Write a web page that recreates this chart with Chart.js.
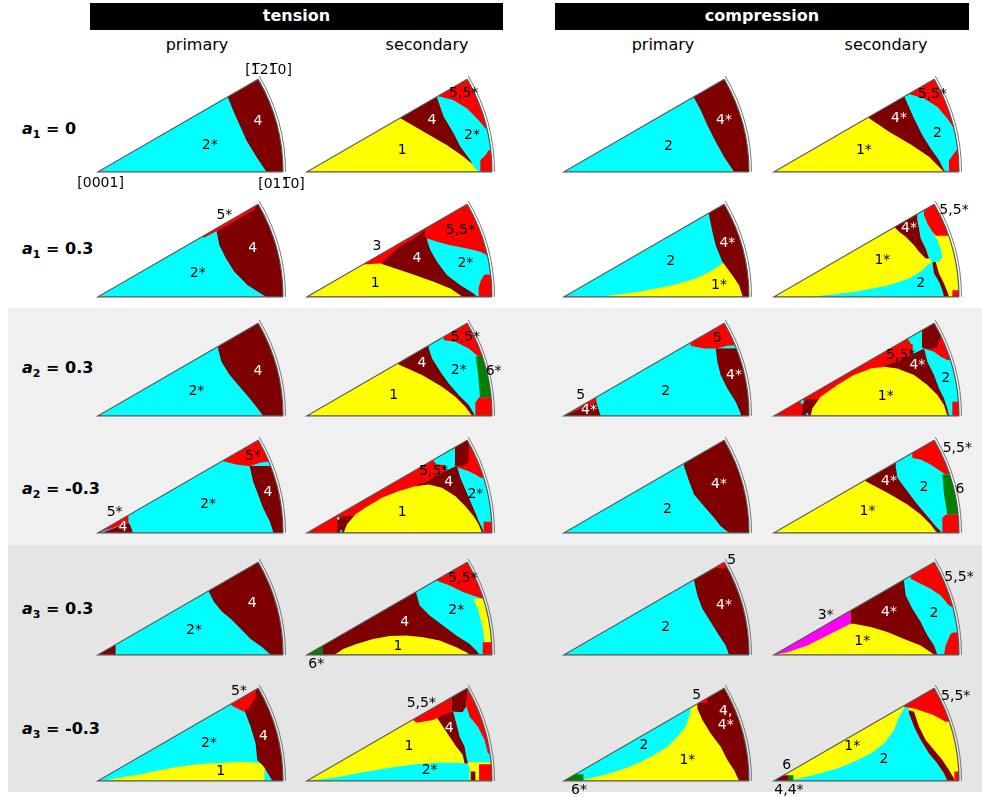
<!DOCTYPE html>
<html><head><meta charset="utf-8">
<script src="https://cdn.jsdelivr.net/npm/chart.js@4/dist/chart.umd.min.js"></script>
<style>
body{margin:0;width:982px;height:797px;position:relative;background:#fff;font-family:"DejaVu Sans",sans-serif;overflow:hidden}
.band{position:absolute;left:8px;width:974px}
.hdr{position:absolute;top:3px;height:27px;background:#000;color:#fff;font-weight:bold;font-size:16px;text-align:center;line-height:26px}
.sub{position:absolute;top:35px;font-size:16px;transform:translateX(-50%);white-space:nowrap}
.row{position:absolute;left:22px;font-weight:bold;font-size:16px;transform:translateY(-50%);white-space:nowrap}
.row sub{font-size:11px}
canvas{position:absolute}
</style></head><body>
<script>
// ---------------- data ----------------
const loadings = ['tension', 'compression'];
const systems = ['primary', 'secondary'];
const rowParams = [['1', '0'], ['1', '0.3'], ['2', '0.3'], ['2', '-0.3'], ['3', '0.3'], ['3', '-0.3']];
const modeIds = [1, 2, 3, 4, 5, 6];
const cornerLabels = [['[1\u030521\u03050]', 0.922, 0.55], ['[0001]', 0.014, -0.062], ['[011\u03050]', 0.992, -0.066]];

// each panel: base mode, overlay regions [mode, polygon (x,y in sector units)], labels [text, x, y]
const a1_0_tenPri = {base: 2, regions: [
  [4, [[0.703,0.40],[0.73,0.333],[0.766,0.252],[0.802,0.171],[0.856,0.081],[0.91,0],[0.91,-0.1],[1.2,-0.1],[1.2,0.7],[0.703,0.7]]]],
  labels: [['2*',0.604,0.144],['4',0.865,0.27]]};
const a1_0_tenSec = {base: 1, regions: [
  [4, [[0.505,0.29],[0.631,0.216],[0.757,0.144],[0.847,0.081],[0.901,0.036],[0.928,0],[1.2,0],[1.2,0.7],[0.5,0.7]]],
  [2, [[0.703,0.40],[0.739,0.297],[0.793,0.207],[0.829,0.135],[0.883,0.063],[0.90,0.027],[0.93,0],[1.2,0],[1.2,0.7],[0.703,0.7]]],
  [5, [[0.70,0.7],[0.712,0.409],[0.793,0.387],[0.865,0.342],[0.928,0.279],[0.964,0.234],[1.2,0.234],[1.2,0.7]]],
  [5, [[0.937,-0.1],[0.937,0.063],[0.964,0.09],[0.982,0.117],[1.2,0.117],[1.2,-0.1]]]],
  labels: [['1',0.514,0.117],['4',0.676,0.279],['2*',0.892,0.198],['5,5*',0.847,0.423]]};
const a1_0_comPri = {base: 2, regions: [
  [4, [[0.703,0.40],[0.739,0.333],[0.775,0.252],[0.82,0.162],[0.865,0.081],[0.919,0],[0.919,-0.1],[1.2,-0.1],[1.2,0.7],[0.703,0.7]]]],
  labels: [['2',0.564,0.135],['4*',0.865,0.279]]};
const a1_0_comSec = {base: 1, regions: [
  [4, [[0.514,0.29],[0.622,0.216],[0.746,0.144],[0.838,0.081],[0.91,0.009],[0.919,0],[1.2,0],[1.2,0.7],[0.51,0.7]]],
  [2, [[0.703,0.41],[0.757,0.288],[0.802,0.198],[0.847,0.126],[0.892,0.063],[0.919,0.009],[0.93,0],[1.2,0],[1.2,0.7],[0.703,0.7]]],
  [5, [[0.715,0.7],[0.721,0.423],[0.811,0.396],[0.883,0.351],[0.937,0.288],[0.973,0.234],[1.2,0.234],[1.2,0.7]]],
  [5, [[0.946,-0.1],[0.946,0.063],[0.973,0.099],[0.99,0.12],[1.2,0.12],[1.2,-0.1]]]],
  labels: [['1*',0.486,0.117],['4*',0.676,0.288],['2',0.883,0.207],['5,5*',0.856,0.418]]};

const a1_03_tenPri = {base: 2, regions: [
  [4, [[0.638,0.37],[0.656,0.279],[0.692,0.207],[0.737,0.135],[0.809,0.063],[0.908,0],[0.908,-0.1],[1.2,-0.1],[1.2,0.7],[0.638,0.7]]],
  [5, [[0.5,0.7],[0.57,0.318],[0.70,0.385],[0.85,0.475],[0.86,0.7]]]],
  labels: [['2*',0.539,0.126],['4',0.836,0.261],['5*',0.683,0.438]]};
const a1_03_tenSec = {base: 5, regions: [
  [4, [[0.41,0.19],[0.50,0.27],[0.60,0.33],[0.64,0.365],[1.2,0.365],[1.2,-0.1],[0.40,-0.1]]],
  [2, [[0.649,0.33],[0.649,0.306],[0.667,0.252],[0.703,0.189],[0.757,0.117],[0.829,0.063],[0.901,0.018],[0.919,0],[1.2,0],[1.2,0.33]]],
  [5, [[0.62,0.7],[0.639,0.319],[0.703,0.297],[0.775,0.279],[0.865,0.261],[0.937,0.243],[0.973,0.225],[1.2,0.225],[1.2,0.7]]],
  [5, [[0.928,-0.1],[0.928,0.05],[0.94,0.09],[0.96,0.12],[1.2,0.12],[1.2,-0.1]]],
  [1, [[0,0],[0.30,0.175],[0.396,0.18],[0.45,0.162],[0.559,0.126],[0.685,0.081],[0.775,0.045],[0.829,0.009],[0.838,0],[0.838,-0.1],[-0.1,-0.1]]]],
  labels: [['3',0.378,0.27],['4',0.595,0.207],['5,5*',0.829,0.36],['2*',0.856,0.18],['1',0.369,0.072]]};
const a1_03_comPri = {base: 2, regions: [
  [1, [[0.2,-0.1],[0.225,0.005],[0.405,0.027],[0.586,0.063],[0.712,0.099],[0.802,0.144],[0.856,0.18],[0.87,0.19],[1.2,0.19],[1.2,-0.1]]],
  [4, [[0.775,0.7],[0.784,0.441],[0.802,0.351],[0.82,0.279],[0.856,0.189],[0.91,0.117],[0.946,0.063],[0.964,0.009],[0.97,-0.1],[1.2,-0.1],[1.2,0.7]]]],
  labels: [['2',0.577,0.189],['4*',0.883,0.288],['1*',0.838,0.063]]};
const a1_03_comSec = {base: 1, regions: [
  [2, [[0.2,-0.1],[0.243,0.005],[0.441,0.027],[0.622,0.063],[0.73,0.099],[0.802,0.144],[0.838,0.18],[0.87,0.19],[0.90,0.10],[0.92,0],[0.92,-0.1]]],
  [4, [[0.856,0.19],[0.865,0.126],[0.892,0.081],[0.91,0.036],[0.919,0],[0.946,0],[0.937,0.027],[0.919,0.072],[0.892,0.126],[0.874,0.19]]],
  [2, [[0.76,0.6],[0.775,0.414],[0.784,0.369],[0.793,0.315],[0.82,0.261],[0.838,0.207],[0.86,0.19],[0.892,0.189],[0.91,0.216],[0.901,0.261],[0.883,0.306],[0.856,0.351],[0.829,0.396],[0.811,0.441],[0.81,0.6]]],
  [4, [[0.63,0.6],[0.64,0.39],[0.676,0.351],[0.712,0.324],[0.757,0.279],[0.784,0.243],[0.82,0.207],[0.838,0.207],[0.82,0.261],[0.793,0.315],[0.784,0.369],[0.775,0.414],[0.77,0.6]]],
  [5, [[0.81,0.6],[0.811,0.441],[0.829,0.396],[0.856,0.351],[0.875,0.33],[1.2,0.33],[1.2,0.6]]],
  [5, [[0.964,-0.1],[0.964,0.036],[1.2,0.036],[1.2,-0.1]]]],
  labels: [['5,5*',0.973,0.468],['4*',0.73,0.369],['1*',0.586,0.198],['2',0.793,0.072]]};

const a2_03_tenPri = {base: 2, regions: [
  [4, [[0.649,0.4],[0.649,0.364],[0.667,0.292],[0.712,0.22],[0.766,0.157],[0.82,0.094],[0.856,0.049],[0.892,0],[0.892,-0.1],[1.2,-0.1],[1.2,0.7],[0.649,0.7]]]],
  labels: [['2*',0.532,0.13],['4',0.865,0.238]]};
const a2_03_tenSec = {base: 1, regions: [
  [4, [[0.495,0.30],[0.495,0.277],[0.622,0.22],[0.73,0.157],[0.802,0.103],[0.856,0.049],[0.883,0.013],[0.892,0],[1.2,0],[1.2,0.7],[0.495,0.7]]],
  [2, [[0.658,0.7],[0.658,0.364],[0.676,0.31],[0.721,0.238],[0.766,0.175],[0.82,0.112],[0.874,0.058],[0.901,0.013],[0.905,0],[1.2,0],[1.2,0.7]]],
  [5, [[0.73,0.7],[0.739,0.409],[0.802,0.4],[0.874,0.364],[0.928,0.319],[0.96,0.30],[1.2,0.3],[1.2,0.7]]],
  [6, [[0.912,0.32],[0.925,0.22],[0.935,0.10],[1.2,0.10],[1.2,0.32]]],
  [5, [[0.91,-0.1],[0.91,0.07],[0.93,0.10],[1.2,0.10],[1.2,-0.1]]]],
  labels: [['1',0.468,0.112],['4',0.622,0.283],['2*',0.82,0.247],['5,5*',0.856,0.422],['6*',1.009,0.238]]};
const a2_03_comPri = {base: 2, regions: [
  [5, [[0.67,0.7],[0.685,0.378],[0.757,0.364],[0.829,0.364],[0.883,0.378],[0.928,0.382],[1.2,0.382],[1.2,0.7]]],
  [4, [[0.82,0.364],[0.829,0.292],[0.847,0.22],[0.883,0.148],[0.928,0.076],[0.955,0.013],[0.96,-0.1],[1.2,-0.1],[1.2,0.365]]],
  [5, [[0,0],[0.175,0.075],[0.171,0.2],[-0.1,0.2]]],
  [4, [[-0.1,-0.1],[0.2,-0.1],[0.198,0],[0.185,0.04],[0.175,0.075],[0,0]]]],
  labels: [['5',0.09,0.112],['4*',0.135,0.031],['2',0.55,0.13],['5',0.829,0.418],['4*',0.919,0.22]]};
const a2_03_comSec = {base: 5, regions: [
  [4, [[0.15,0],[0.155,0.06],[0.17,0.09],[0.25,0.09],[0.25,0]]],
  [2, [[0.75,0.4],[0.811,0.364],[0.865,0.346],[0.901,0.319],[0.937,0.301],[1.2,0.3],[1.2,0.076],[0.964,0.076],[0.964,0],[0.75,0]]],
  [4, [[0.6,0.27],[0.703,0.31],[0.757,0.337],[0.811,0.364],[0.829,0.292],[0.865,0.22],[0.892,0.148],[0.919,0.094],[0.937,0.04],[0.946,0],[0.6,0]]],
  [1, [[0.19,-0.1],[0.198,0],[0.207,0.04],[0.252,0.103],[0.342,0.166],[0.432,0.22],[0.523,0.256],[0.595,0.265],[0.667,0.256],[0.757,0.22],[0.829,0.166],[0.883,0.112],[0.919,0.058],[0.937,0],[0.94,-0.1]]],
  [2, [[0.70,0.6],[0.72,0.42],[0.74,0.39],[0.80,0.37],[0.80,0.6]]],
  [4, [[0.80,0.6],[0.80,0.37],[0.84,0.36],[0.88,0.37],[0.9,0.42],[0.9,0.6]]],
  [2, [[0.145,0.065],[0.16,0.065],[0.16,0.085],[0.145,0.085]]],
  [2, [[0.175,0],[0.185,0],[0.185,0.015],[0.175,0.015]]]],
  labels: [['5,5*',0.685,0.328],['4*',0.775,0.27],['2',0.928,0.202],['1*',0.604,0.103]]};

const a2_m03_tenPri = {base: 2, regions: [
  [5, [[0.66,0.7],[0.676,0.387],[0.748,0.369],[0.82,0.36],[0.874,0.378],[0.928,0.387],[1.2,0.387],[1.2,0.7]]],
  [4, [[0.82,0.361],[0.838,0.279],[0.865,0.207],[0.892,0.135],[0.928,0.063],[0.946,0.009],[0.95,-0.1],[1.2,-0.1],[1.2,0.362]]],
  [5, [[0,0],[0.165,0.055],[0.16,0.2],[-0.1,0.2]]],
  [4, [[0.02,0],[0.165,0.055],[0.175,0.04],[0.189,0],[0.19,-0.1],[0.02,-0.1]]]],
  labels: [['5*',0.09,0.108],['4',0.135,0.027],['2*',0.595,0.153],['5*',0.838,0.414],['4',0.919,0.216]]};
const a2_m03_tenSec = {base: 5, regions: [
  [4, [[0.16,0],[0.165,0.07],[0.19,0.09],[0.27,0.09],[0.27,0]]],
  [2, [[0.75,0.4],[0.82,0.351],[0.874,0.333],[0.91,0.315],[0.937,0.297],[1.2,0.297],[1.2,0.06],[0.955,0.06],[0.955,0],[0.75,0]]],
  [4, [[0.6,0.262],[0.64,0.27],[0.694,0.306],[0.748,0.333],[0.802,0.36],[0.811,0.36],[0.829,0.297],[0.856,0.234],[0.883,0.171],[0.91,0.108],[0.928,0.063],[0.946,0.027],[0.955,0],[0.6,0]]],
  [1, [[0.19,-0.1],[0.198,0],[0.216,0.045],[0.261,0.099],[0.315,0.135],[0.405,0.189],[0.495,0.225],[0.586,0.252],[0.658,0.261],[0.73,0.243],[0.802,0.198],[0.856,0.144],[0.901,0.09],[0.928,0.045],[0.946,0],[0.95,-0.1]]],
  [2, [[0.66,0.6],[0.676,0.40],[0.70,0.37],[0.80,0.36],[0.80,0.6]]],
  [4, [[0.80,0.6],[0.80,0.362],[0.84,0.36],[0.874,0.38],[0.874,0.6]]],
  [2, [[0.162,0.07],[0.175,0.07],[0.175,0.085],[0.162,0.085]]],
  [2, [[0.18,0],[0.19,0],[0.19,0.015],[0.18,0.015]]]],
  labels: [['5,5*',0.685,0.333],['4',0.766,0.27],['2*',0.91,0.207],['1',0.514,0.108]]};
const a2_m03_comPri = {base: 2, regions: [
  [4, [[0.649,0.4],[0.649,0.36],[0.676,0.279],[0.703,0.207],[0.757,0.144],[0.811,0.081],[0.847,0.036],[0.892,0],[0.892,-0.1],[1.2,-0.1],[1.2,0.7],[0.649,0.7]]]],
  labels: [['2',0.559,0.126],['4*',0.838,0.261]]};
const a2_m03_comSec = {base: 1, regions: [
  [4, [[0.495,0.3],[0.495,0.279],[0.613,0.216],[0.721,0.153],[0.793,0.099],[0.847,0.045],[0.874,0.009],[0.883,0],[1.2,0],[1.2,0.7],[0.495,0.7]]],
  [2, [[0.658,0.7],[0.658,0.36],[0.667,0.297],[0.721,0.225],[0.775,0.153],[0.829,0.09],[0.874,0.036],[0.901,0.009],[0.905,0],[1.2,0],[1.2,0.7]]],
  [5, [[0.74,0.7],[0.748,0.405],[0.793,0.396],[0.847,0.369],[0.901,0.333],[0.928,0.315],[1.2,0.315],[1.2,0.7]]],
  [6, [[0.91,0.315],[0.919,0.207],[0.937,0.099],[1.2,0.099],[1.2,0.315]]],
  [5, [[0.91,-0.1],[0.91,0.081],[0.93,0.099],[1.2,0.099],[1.2,-0.1]]]],
  labels: [['1*',0.505,0.117],['4*',0.622,0.279],['2',0.811,0.243],['5,5*',0.991,0.459],['6',1.005,0.234]]};

const a3_03_tenPri = {base: 2, regions: [
  [4, [[0.6,0.4],[0.6,0.339],[0.627,0.285],[0.672,0.231],[0.717,0.195],[0.771,0.141],[0.825,0.086],[0.888,0.041],[0.933,0],[0.933,-0.1],[1.2,-0.1],[1.2,0.7],[0.6,0.7]]],
  [4, [[-0.1,-0.1],[0.095,-0.1],[0.095,0.06],[-0.1,0.06]]]],
  labels: [['2*',0.519,0.132],['4',0.834,0.276]]};
const a3_03_tenSec = {base: 4, regions: [
  [1, [[0.145,-0.1],[0.15,0],[0.195,0.032],[0.267,0.059],[0.357,0.086],[0.447,0.101],[0.537,0.105],[0.627,0.095],[0.717,0.077],[0.807,0.041],[0.861,0.014],[0.879,0],[0.88,-0.1]]],
  [6, [[-0.1,-0.1],[0.086,-0.1],[0.086,0.05],[-0.1,0.05]]],
  [2, [[0.59,0.7],[0.591,0.33],[0.609,0.267],[0.663,0.213],[0.735,0.159],[0.807,0.105],[0.879,0.059],[0.915,0.023],[0.933,0],[1.2,0],[1.2,0.7]]],
  [5, [[0.69,0.7],[0.699,0.402],[0.771,0.375],[0.843,0.339],[0.897,0.321],[0.951,0.303],[1.2,0.303],[1.2,0.7]]],
  [1, [[0.897,0.303],[0.924,0.249],[0.951,0.141],[0.96,0.068],[1.2,0.068],[1.2,0.303]]],
  [5, [[0.95,-0.1],[0.95,0.068],[1.2,0.068],[1.2,-0.1]]]],
  labels: [['6*',0.05,-0.049],['4',0.528,0.177],['1',0.492,0.047],['2*',0.807,0.24],['5,5*',0.843,0.414]]};
const a3_03_comPri = {base: 2, regions: [
  [4, [[0.703,0.45],[0.703,0.402],[0.721,0.321],[0.748,0.249],[0.793,0.177],[0.838,0.105],[0.874,0.05],[0.892,0],[0.892,-0.1],[1.2,-0.1],[1.2,0.7],[0.703,0.7]]],
  [5, [[0.82,0.7],[0.825,0.47],[0.87,0.465],[0.9,0.7]]]],
  labels: [['5',0.906,0.51],['4*',0.865,0.267],['2',0.55,0.15]]};
const a3_03_comSec = {base: 1, regions: [
  [3, [[0,0],[0.072,0.014],[0.18,0.05],[0.288,0.105],[0.378,0.15],[0.414,0.168],[0.414,0.4],[-0.1,0.4]]],
  [4, [[0.414,0.4],[0.414,0.168],[0.432,0.168],[0.523,0.15],[0.613,0.123],[0.703,0.086],[0.793,0.05],[0.847,0.014],[0.865,0],[1.2,0],[1.2,0.7],[0.414,0.7]]],
  [2, [[0.70,0.7],[0.703,0.393],[0.712,0.321],[0.748,0.249],[0.793,0.177],[0.829,0.105],[0.865,0.05],[0.883,0],[1.2,0],[1.2,0.7]]],
  [5, [[0.73,0.7],[0.739,0.411],[0.793,0.384],[0.847,0.357],[0.901,0.321],[0.946,0.267],[0.96,0.26],[1.2,0.26],[1.2,0.7]]],
  [5, [[0.919,-0.1],[0.919,0],[0.928,0.05],[0.955,0.114],[0.97,0.12],[1.2,0.12],[1.2,-0.1]]]],
  labels: [['3*',0.279,0.213],['4*',0.622,0.227],['1*',0.477,0.072],['2',0.865,0.222],['5,5*',1.0,0.42]]};

const a3_m03_tenPri = {base: 2, regions: [
  [1, [[0,0],[0.05,0.004],[0.141,0.022],[0.231,0.036],[0.321,0.054],[0.411,0.072],[0.501,0.085],[0.591,0.094],[0.681,0.097],[0.771,0.103],[0.861,0.097],[0.9,0.09],[0.9,-0.1],[0,-0.1]]],
  [4, [[0.78,0.6],[0.78,0.409],[0.798,0.364],[0.825,0.292],[0.852,0.202],[0.861,0.112],[0.897,0.076],[0.924,0.031],[0.942,0],[0.942,-0.1],[1.2,-0.1],[1.2,0.6]]],
  [5, [[0.70,0.6],[0.72,0.41],[0.735,0.40],[0.789,0.373],[0.82,0.40],[0.85,0.45],[0.87,0.6]]]],
  labels: [['5*',0.762,0.481],['2*',0.6,0.202],['4',0.894,0.241],['1',0.663,0.049]]};
const a3_m03_tenSec = {base: 1, regions: [
  [2, [[-0.1,-0.1],[0,0],[0.068,0.007],[0.177,0.022],[0.267,0.04],[0.375,0.058],[0.483,0.076],[0.591,0.09],[0.699,0.097],[0.807,0.097],[0.87,0.094],[0.88,0.06],[0.88,-0.1]]],
  [2, [[0.78,0.5],[0.78,0.37],[0.80,0.25],[0.85,0.1],[1.2,0.1],[1.2,0.5]]],
  [4, [[0.699,0.346],[0.735,0.292],[0.771,0.238],[0.807,0.184],[0.843,0.139],[0.852,0.094],[0.87,0.094],[0.861,0.13],[0.852,0.184],[0.825,0.238],[0.807,0.31],[0.79,0.373],[0.72,0.373]]],
  [4, [[0.78,0.6],[0.78,0.375],[0.84,0.37],[0.86,0.40],[0.88,0.6]]],
  [5, [[0.88,0.6],[0.86,0.41],[0.879,0.346],[0.924,0.292],[0.96,0.22],[0.978,0.148],[1.2,0.148],[1.2,0.6]]],
  [5, [[0.56,0.34],[0.591,0.314],[0.681,0.328],[0.735,0.355],[0.78,0.373],[0.78,0.6],[0.56,0.6]]],
  [1, [[0.88,-0.1],[0.88,0.09],[0.93,0.09],[0.93,-0.1]]],
  [5, [[0.93,-0.1],[0.93,0.09],[1.2,0.09],[1.2,-0.1]]],
  [4, [[0.885,-0.1],[0.885,0.05],[0.91,0.05],[0.91,-0.1]]]],
  labels: [['5,5*',0.618,0.418],['4',0.768,0.286],['1',0.551,0.184],['2*',0.663,0.054]]};
const a3_m03_comPri = {base: 1, regions: [
  [2, [[0,0],[0.108,0.007],[0.216,0.031],[0.306,0.058],[0.396,0.094],[0.486,0.139],[0.559,0.184],[0.613,0.238],[0.658,0.292],[0.676,0.346],[0.685,0.382],[0.70,0.6],[-0.1,0.6]]],
  [6, [[-0.1,-0.1],[0.105,-0.1],[0.105,0.035],[-0.1,0.035]]],
  [4, [[0.715,0.6],[0.721,0.391],[0.748,0.328],[0.793,0.256],[0.847,0.184],[0.883,0.112],[0.919,0.058],[0.946,0],[0.946,-0.1],[1.2,-0.1],[1.2,0.6]]],
  [5, [[0.735,0.6],[0.735,0.42],[0.775,0.42],[0.775,0.6]]]],
  labels: [['5',0.717,0.463],['4,',0.874,0.373],['4*',0.874,0.301],['2',0.432,0.193],['1*',0.667,0.112],['6*',0.081,-0.05]]};
const a3_m03_comSec = {base: 2, regions: [
  [1, [[0,0],[0.108,0.007],[0.216,0.031],[0.342,0.067],[0.432,0.103],[0.523,0.148],[0.595,0.202],[0.649,0.274],[0.676,0.346],[0.703,0.391],[0.72,0.6],[-0.1,0.6]]],
  [1, [[0.73,0.5],[0.73,0.364],[0.757,0.292],[0.793,0.22],[0.838,0.148],[0.883,0.094],[0.919,0.04],[0.937,0],[1.2,0],[1.2,0.5]]],
  [4, [[0.73,0.382],[0.73,0.364],[0.757,0.292],[0.793,0.22],[0.838,0.148],[0.883,0.094],[0.919,0.04],[0.937,0],[0.973,0],[0.973,0.013],[0.946,0.058],[0.91,0.112],[0.865,0.166],[0.82,0.22],[0.784,0.292],[0.757,0.373]]],
  [5, [[0.69,0.6],[0.703,0.40],[0.757,0.391],[0.811,0.373],[0.865,0.355],[0.91,0.328],[0.928,0.319],[1.2,0.319],[1.2,0.6]]],
  [5, [[0.975,-0.1],[0.975,0.05],[1.2,0.05],[1.2,-0.1]]],
  [4, [[-0.1,-0.1],[0.08,-0.1],[0.08,0.03],[-0.1,0.03]]],
  [6, [[0.08,-0.1],[0.105,-0.1],[0.105,0.03],[0.08,0.03]]]],
  labels: [['5,5*',0.982,0.454],['1*',0.423,0.184],['2',0.595,0.117],['6',0.068,0.085],['4,4*',0.081,-0.05]]};

const panelGrid = [
  [a1_0_tenPri, a1_0_tenSec, a1_0_comPri, a1_0_comSec],
  [a1_03_tenPri, a1_03_tenSec, a1_03_comPri, a1_03_comSec],
  [a2_03_tenPri, a2_03_tenSec, a2_03_comPri, a2_03_comSec],
  [a2_m03_tenPri, a2_m03_tenSec, a2_m03_comPri, a2_m03_comSec],
  [a3_03_tenPri, a3_03_tenSec, a3_03_comPri, a3_03_comSec],
  [a3_m03_tenPri, a3_m03_tenSec, a3_m03_comPri, a3_m03_comSec]
];

// ---------------- style / layout ----------------
const MODE_COLORS = {1: '#ffff00', 2: '#00ffff', 3: '#ff00ff', 4: '#7f0000', 5: '#ff0000', 6: '#007f00'};
const R = 185;
const X_MIN = -0.2, X_MAX = 1.2, Y_MIN = -0.12;
const CW = Math.round((X_MAX - X_MIN) * R), CH = 133;
const Y_MAX = Y_MIN + CH / R;
const APEX_X = [97.5, 306.5, 564, 773.5];
const BASE_Y = [171.7, 296.7, 415.7, 533.3, 654.3, 780.7];
const ROW_LABEL_Y = [130, 250, 369, 490, 610, 730];
const SUB_X = [197, 427, 663, 886];

function el(tag, cls, css, html) {
  const e = document.createElement(tag);
  if (cls) e.className = cls;
  Object.assign(e.style, css || {});
  if (html !== undefined) e.innerHTML = html;
  document.body.appendChild(e);
  return e;
}
el('div', 'band', {top: '308px', height: '237px', background: '#f0f0f0'});
el('div', 'band', {top: '545px', height: '247px', background: '#e5e5e5'});
el('div', 'hdr', {left: '90px', width: '413px'}, loadings[0]);
el('div', 'hdr', {left: '555px', width: '414px'}, loadings[1]);
SUB_X.forEach((x, i) => el('div', 'sub', {left: x + 'px'}, systems[i % 2]));
rowParams.forEach((p, i) => el('div', 'row', {top: ROW_LABEL_Y[i] + 'px'}, '<i>a</i><sub>' + p[0] + '</sub> = ' + p[1]));

const sectorPlugin = {
  id: 'sectorDraw',
  beforeDatasetsDraw(chart) {
    const {ctx} = chart;
    const sx = chart.scales.x, sy = chart.scales.y;
    const px = v => sx.getPixelForValue(v), py = v => sy.getPixelForValue(v);
    const cx = px(0), cy = py(0), rad = px(1) - cx;
    const cfg = chart.options.plugins.sectorDraw;
    ctx.save();
    ctx.beginPath();
    ctx.moveTo(cx, cy); ctx.lineTo(cx + rad, cy);
    ctx.arc(cx, cy, rad, 0, -Math.PI / 6, true);
    ctx.closePath();
    ctx.clip();
    ctx.fillStyle = MODE_COLORS[cfg.base];
    ctx.fillRect(0, 0, chart.width, chart.height);
    chart.data.datasets.forEach(ds => {
      ctx.beginPath();
      ds.data.forEach((p, i) => i ? ctx.lineTo(px(p.x), py(p.y)) : ctx.moveTo(px(p.x), py(p.y)));
      ctx.closePath();
      ctx.fillStyle = ds.backgroundColor;
      ctx.fill();
    });
    ctx.restore();
    // outline
    ctx.save();
    ctx.strokeStyle = '#555'; ctx.lineWidth = 1.2;
    ctx.beginPath();
    ctx.moveTo(px(Math.cos(Math.PI / 6)), py(Math.sin(Math.PI / 6)));
    ctx.lineTo(cx, cy); ctx.lineTo(cx + rad, cy);
    ctx.stroke();
    ctx.beginPath(); ctx.arc(cx, cy, rad, 0, -Math.PI / 6, true); ctx.stroke();
    ctx.strokeStyle = '#777'; ctx.lineWidth = 1;
    ctx.beginPath(); ctx.arc(cx, cy, rad + 2.5, 0, -Math.PI / 6 - 0.012, true); ctx.stroke();
    // labels
    ctx.font = '14px "DejaVu Sans"';
    ctx.textAlign = 'center'; ctx.textBaseline = 'middle';
    cfg.labels.forEach(([t, x, y]) => {
      const inside = y > 0 && Math.hypot(x, y) < 1 && Math.atan2(y, x) < Math.PI / 6;
      ctx.fillStyle = (inside && t[0] === '4') ? '#fff' : '#000';
      ctx.fillText(t, px(x), py(y));
    });
    ctx.restore();
  }
};

panelGrid.forEach((row, ri) => row.forEach((panel, ci) => {
  const cv = document.createElement('canvas');
  cv.width = CW; cv.height = CH;
  cv.style.left = Math.round(APEX_X[ci] + X_MIN * R) + 'px';
  cv.style.top = Math.round(BASE_Y[ri] - Y_MAX * R) + 'px';
  cv.style.width = CW + 'px'; cv.style.height = CH + 'px';
  document.body.appendChild(cv);
  const labels = (ri === 0 && ci === 0) ? panel.labels.concat(cornerLabels) : panel.labels;
  new Chart(cv, {
    type: 'scatter',
    data: {datasets: panel.regions.map(([m, pts]) => ({
      label: 'mode ' + m,
      data: pts.map(([x, y]) => ({x, y})),
      backgroundColor: MODE_COLORS[m],
      pointRadius: 0, showLine: false
    }))},
    options: {
      responsive: false, animation: false, devicePixelRatio: 1, events: [],
      layout: {padding: 0},
      plugins: {legend: {display: false}, tooltip: {enabled: false}, sectorDraw: {base: panel.base, labels}},
      scales: {
        x: {type: 'linear', min: X_MIN, max: X_MAX, display: false},
        y: {type: 'linear', min: Y_MIN, max: Y_MAX, display: false}
      }
    },
    plugins: [sectorPlugin]
  });
}));
</script>
</body></html>
